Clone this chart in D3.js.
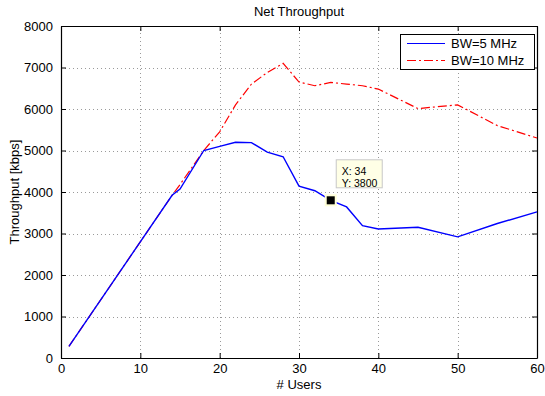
<!DOCTYPE html>
<html>
<head>
<meta charset="utf-8">
<script src="https://cdn.jsdelivr.net/npm/d3@7/dist/d3.min.js"></script>
<style>
  html, body { margin: 0; padding: 0; background: #fff; }
  svg { display: block; font-family: "Liberation Sans", Arial, sans-serif; }
</style>
</head>
<body>
<svg id="chart" width="545" height="396"></svg>
<script>
// Number of users on the x axis
const users = [1, 14, 15, 18, 20, 22, 24, 26, 28, 30, 32, 34, 36, 38, 40, 45, 50, 55, 60];
// Net throughput [kbps] for each bandwidth
const bw5 = [280, 3920, 4070, 5000, 5100, 5200, 5190, 4960, 4850, 4140, 4030, 3800, 3640, 3190, 3110, 3150, 2920, 3240, 3520];
const bw10 = [280, 3920, 4180, 5000, 5450, 6100, 6600, 6880, 7100, 6650, 6560, 6640, 6600, 6560, 6480, 6010, 6100, 5600, 5300];
const seriesNames = ["BW=5 MHz", "BW=10 MHz"];
const xTicks = [0, 10, 20, 30, 40, 50, 60];
const yTicks = [0, 1000, 2000, 3000, 4000, 5000, 6000, 7000, 8000];
// Data cursor
const tipUser = 34;
const tipValue = 3800;

const svg = d3.select("#chart");
const L = 61, R = 537, T = 26, B = 358;

const x = d3.scaleLinear().domain([0, 60]).range([L, R]);
const y = d3.scaleLinear().domain([0, 8000]).range([B, T]);
const fmt = d3.format("d");

// dotted grid
const grid = svg.append("g").attr("stroke", "#9a9a9a").attr("stroke-width", 1)
  .attr("stroke-dasharray", "1,3").attr("shape-rendering", "crispEdges");
grid.selectAll("line.gx").data(xTicks.slice(1, -1)).join("line")
  .attr("x1", d => Math.round(x(d)) + 0.5).attr("x2", d => Math.round(x(d)) + 0.5)
  .attr("y1", B).attr("y2", T);
grid.selectAll("line.gy").data(yTicks.slice(1, -1)).join("line")
  .attr("y1", d => Math.round(y(d)) + 0.5).attr("y2", d => Math.round(y(d)) + 0.5)
  .attr("x1", L).attr("x2", R);

// axes with inward ticks on all four sides
function styleAxis(g) {
  g.selectAll("path").attr("stroke", "#000").attr("stroke-width", 1.2);
  g.selectAll("line").attr("stroke", "#000");
  g.selectAll("text").attr("font-size", "13px").attr("fill", "#000")
    .attr("font-family", "'Liberation Sans', Arial, sans-serif");
}
svg.append("g").attr("transform", `translate(0,${B})`)
  .call(d3.axisBottom(x).tickValues(xTicks).tickFormat(fmt).tickSizeInner(-5).tickSizeOuter(0).tickPadding(6))
  .call(styleAxis);
svg.append("g").attr("transform", `translate(0,${T})`)
  .call(d3.axisTop(x).tickValues(xTicks).tickSizeInner(-5).tickSizeOuter(0).tickFormat(""))
  .call(styleAxis);
svg.append("g").attr("transform", `translate(${L},0)`)
  .call(d3.axisLeft(y).tickValues(yTicks).tickFormat(fmt).tickSizeInner(-5).tickSizeOuter(0).tickPadding(8))
  .call(styleAxis);
svg.append("g").attr("transform", `translate(${R},0)`)
  .call(d3.axisRight(y).tickValues(yTicks).tickSizeInner(-5).tickSizeOuter(0).tickFormat(""))
  .call(styleAxis);

// lines
const line = d3.line().x((d, i) => x(users[i])).y(d => y(d));
svg.append("path").datum(bw10).attr("d", line)
  .attr("fill", "none").attr("stroke", "#ff0000").attr("stroke-width", 1.2)
  .attr("stroke-dasharray", "9,3,2,3");
svg.append("path").datum(bw5).attr("d", line)
  .attr("fill", "none").attr("stroke", "#0000ff").attr("stroke-width", 1.4);

// titles
svg.append("text").attr("x", (L + R) / 2).attr("y", 16).attr("text-anchor", "middle")
  .attr("font-size", "13px").text("Net Throughput");
svg.append("text").attr("x", (L + R) / 2).attr("y", 389).attr("text-anchor", "middle")
  .attr("font-size", "13px").text("# Users");
svg.append("text").attr("transform", `translate(19,${(T + B) / 2}) rotate(-90)`)
  .attr("text-anchor", "middle").attr("font-size", "13px").text("Throughput [kbps]");

// legend
const lg = svg.append("g");
lg.append("rect").attr("x", 400.5).attr("y", 34.5).attr("width", 134).attr("height", 35)
  .attr("fill", "#fff").attr("stroke", "#000").attr("stroke-width", 1);
const legendStyles = [
  { color: "#0000ff", dash: null },
  { color: "#ff0000", dash: "9,3,2,3" }
];
seriesNames.forEach((name, i) => {
  const yy = 43.5 + i * 17;
  lg.append("line").attr("x1", 407).attr("x2", 445).attr("y1", yy).attr("y2", yy)
    .attr("stroke", legendStyles[i].color).attr("stroke-width", 1.2)
    .attr("stroke-dasharray", legendStyles[i].dash);
  lg.append("text").attr("x", 451).attr("y", yy + 4.5).attr("font-size", "13px").text(name);
});

// data cursor marker and tip
const tx = x(tipUser), ty = y(tipValue);
svg.append("rect").attr("x", tx - 6).attr("y", ty - 6).attr("width", 12).attr("height", 12)
  .attr("fill", "#ffffd8");
svg.append("rect").attr("x", tx - 4).attr("y", ty - 4).attr("width", 8).attr("height", 8)
  .attr("fill", "#000");
const tip = svg.append("g");
tip.append("rect").attr("x", tx + 5.5).attr("y", ty - 40.5).attr("width", 46).attr("height", 28)
  .attr("fill", "#ffffe6").attr("stroke", "#c8c8c8").attr("stroke-width", 1);
tip.append("text").attr("x", tx + 11).attr("y", ty - 25).attr("font-size", "10.5px").text("X: " + tipUser);
tip.append("text").attr("x", tx + 11).attr("y", ty - 13.5).attr("font-size", "10.5px").text("Y: " + tipValue);
</script>
</body>
</html>
